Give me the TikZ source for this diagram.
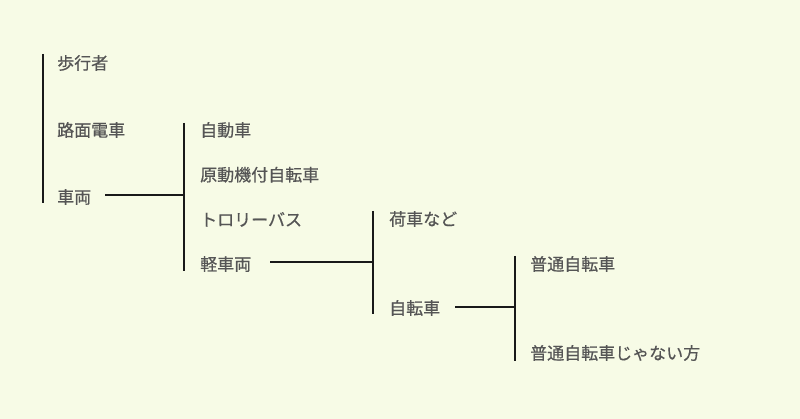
\documentclass[tikz,border=0pt]{standalone}
\usepackage{fontspec}
\newfontfamily\jpfont[FakeBold=0.6]{Noto Sans CJK JP}
\usetikzlibrary{positioning, calc}
\definecolor{bgyellow}{RGB}{247,251,230}
\definecolor{txtgray}{RGB}{85,85,85}

\begin{document}
\begin{tikzpicture}[
    x=1pt, y=-1pt,
    item/.style={anchor=west, inner sep=0pt, text=txtgray,
                 font=\jpfont\fontsize{17}{20}\selectfont},
    bar/.style={line width=2.8pt, draw=black!90, line cap=butt}
  ]
  \fill[bgyellow] (0,0) rectangle (800,419);
  \useasboundingbox (0,0) rectangle (800,419);

  % Level 0
  \node[item] (hokousha) at (57,63)  {歩行者};
  \node[item] (romen)    at (57,130) {路面電車};
  \node[item] (sharyo)   at (57,197) {車両};
  \coordinate (l0top) at (43,54);
  \coordinate (l0bot) at (43,203);
  \draw[bar] (l0top) -- (l0bot);

  % Level 1
  \foreach \t/\n [count=\i from 0] in {自動車/jidousha,原動機付自転車/gentsuki,
      トロリーバス/trolley,軽車両/keisharyo} {
    \node[item] (\n) at (200,130+\i*44.7) {\t};
  }
  \coordinate (l1top) at (184,123);
  \coordinate (l1bot) at (184,271);
  \draw[bar] (l1top) -- (l1bot);
  \coordinate (s1) at ([xshift=14pt,yshift=2pt]sharyo.east);
  \draw[bar] (s1) -- (s1 -| l1top);

  % Level 2
  \node[item] (niguruma) at (389,219) {荷車など};
  \node[item] (jitensha) at (389,308) {自転車};
  \coordinate (l2top) at (373,211);
  \coordinate (l2bot) at (373,314);
  \draw[bar] (l2top) -- (l2bot);
  \coordinate (s2) at ([xshift=19pt,yshift=2pt]keisharyo.east);
  \draw[bar] (s2) -- (s2 -| l2top);

  % Level 3
  \node[item] (futsuu) at (530,264) {普通自転車};
  \node[item] (hifutsuu) at (530,353) {普通自転車じゃない方};
  \coordinate (l3top) at (515,256);
  \coordinate (l3bot) at (515,361);
  \draw[bar] (l3top) -- (l3bot);
  \coordinate (s3) at ([xshift=15pt,yshift=1pt]jitensha.east);
  \draw[bar] (s3) -- (s3 -| l3top);
\end{tikzpicture}
\end{document}
